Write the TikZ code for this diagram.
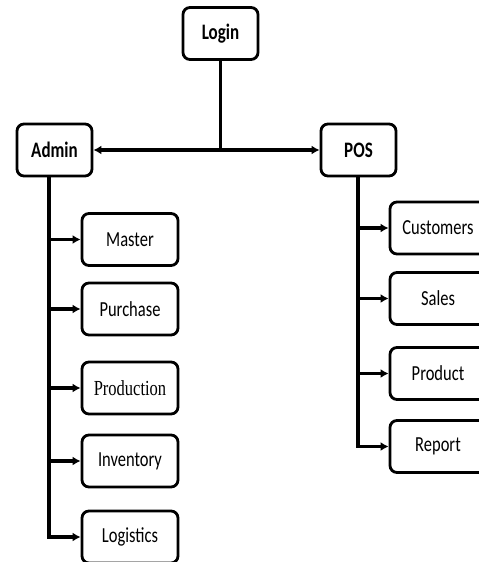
\documentclass[tikz,border=0pt]{standalone}
\usepackage{fontspec}
\setmainfont{Carlito}
\newfontfamily\timesfont{Liberation Serif}
\usetikzlibrary{arrows.meta}
\newcommand{\tall}[1]{\scalebox{1}[1.3]{#1}}

\begin{document}
\begin{tikzpicture}[x=1pt,y=-1pt,>={Latex[length=8pt,width=9pt]},line width=3.2pt,
  box/.style={draw,rounded corners=7pt,line width=2.8pt,minimum width=96pt,
    minimum height=52pt,inner sep=0pt,font=\fontsize{16.5}{18}\selectfont},
  head/.style={box,minimum width=75pt,font=\fontsize{17}{18}\selectfont\bfseries}]
\useasboundingbox (0,0) rectangle (479,562);
\clip (0,0) rectangle (479,562);
\node[head] (login) at (220.5,33.5) {\tall{Login}};
\node[head] (admin) at (54.5,150) {\tall{Admin}};
\node[head]   (pos) at (358.5,150) {\tall{POS}};
% admin side
\node[box]     (master) at (130,239.5) {\tall{Master}};
\node[box]   (purchase) at (130,309) {\tall{Purchase}};
\node[box] (production) at (130,388) {\tall{\timesfont Production}};
\node[box]  (inventory) at (130,461) {\tall{Inventory}};
\node[box]  (logistics) at (130,537) {\tall{Logistics}};
% pos side
\node[box] (customers) at (438,228) {\tall{Customers}};
\node[box]     (sales) at (438,298.5) {\tall{Sales}};
\node[box]   (product) at (438,373.5) {\tall{Product}};
\node[box]    (report) at (438,446.5) {\tall{Report}};
\coordinate (lt) at (49,0);
\coordinate (rt) at (358,0);
\draw (login) -- (login |- admin);
\draw[<->] (admin) -- (pos);
\draw[->] (admin.south -| lt) |- (logistics);
\foreach \n in {master,purchase,production,inventory}
  \draw[->] (lt |- \n) -- (\n);
\draw[->] (pos.south -| rt) |- (report);
\foreach \n in {customers,sales,product}
  \draw[->] (rt |- \n) -- (\n);
\end{tikzpicture}
\end{document}
